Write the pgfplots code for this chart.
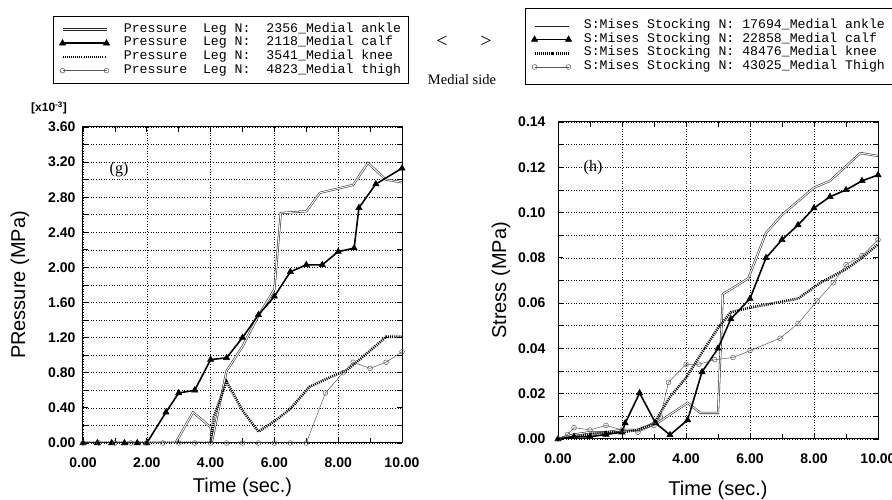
\documentclass[border=0pt]{standalone}
\usepackage{fontspec}
\setmainfont{Liberation Sans}
\setmonofont{Liberation Mono}
\newfontfamily\timesfont{Liberation Serif}
\usepackage{pgfplots}
\pgfplotsset{compat=1.18}

\pgfplotsset{
  panel/.style={
    scale only axis,
    xmin=0, xmax=10,
    xtick={0,2,...,10},
    minor x tick num=1,
    minor y tick num=1,
    xmajorgrids, ymajorgrids, yminorgrids,
    grid style={black, line width=0.6pt, dash pattern=on 1pt off 1.6pt},
    axis line style={line width=1pt},
    tick align=inside,
    major tick length=5pt, minor tick length=5pt,
    tick style={black, line width=0.8pt},
    ticklabel style={font=\fontsize{14}{14}\selectfont\bfseries},
    xticklabel style={yshift=-11pt},
    /pgf/number format/assume math mode=true,
    /pgf/number format/.cd, fixed, fixed zerofill, precision=2, /pgfplots/.cd,
    scaled ticks=false,
    xlabel={Time (sec.)},
    label style={font=\fontsize{20}{21}\selectfont},
    legend cell align=left,
    legend style={draw=black, line width=0.8pt, anchor=north west,
      font=\fontsize{13.2}{12}\selectfont\ttfamily,
      nodes={inner sep=1.2pt, text height=7.5pt, text depth=2.2pt},
      row sep=1.6pt, inner xsep=6pt},
  },
  ankle/.style={draw=black!85, double=white, double distance=1pt, line width=0.55pt, mark=none},
  calf/.style={black, line width=1.6pt, mark=triangle*, mark size=3.6pt, mark options={solid, line width=0.5pt}},
  knee/.style={black, line width=2.6pt, dash pattern=on 1pt off 1.1pt, mark=none},
  thigh/.style={black!65, line width=0.5pt, mark=o, mark size=2.4pt, mark options={solid, fill=white, black!65}},
}

\begin{document}
\begin{tikzpicture}
\useasboundingbox (0,0) rectangle (892pt,500pt);

% ---------------- (g) pressure on the leg ----------------
\begin{axis}[panel,
  at={(83pt,57pt)}, anchor=south west,
  width=319pt, height=316pt,
  ymin=0, ymax=3.6,
  ytick={0,0.4,...,3.6},
  yticklabel style={xshift=-4pt},
  ylabel={PRessure (MPa)},
  ylabel style={yshift=12pt},
  xlabel style={yshift=-4pt},
  legend style={at={(-0.094,1.351)}, column sep=13pt, inner ysep=7pt},
  legend image code/.code={%
    \draw[mark repeat=2, mark phase=1, #1] plot coordinates {(0pt,0pt) (22pt,0pt) (44pt,0pt)};},
]
\addplot[ankle] coordinates {(0,0) (1,0) (2,0) (2.9,0) (3.45,0.35) (4.0,0.18) (4.05,0.03) (4.5,0.82) (5.0,1.1) (5.5,1.45) (6.0,1.75) (6.2,2.62) (7.0,2.64) (7.43,2.85) (8.47,2.94) (8.93,3.19) (9.5,3.0) (10,2.97)};
\addlegendentry{Pressure\ \ Leg\ N:\ \ 2356\_Medial ankle}
\addplot[calf] coordinates {(0,0) (0.45,0) (0.9,0) (1.3,0) (1.7,0) (2.0,0) (2.6,0.35) (3.0,0.57) (3.5,0.6) (4.0,0.95) (4.5,0.97) (5.0,1.2) (5.5,1.46) (6.0,1.67) (6.5,1.95) (7.0,2.03) (7.5,2.03) (8.0,2.18) (8.5,2.22) (8.65,2.68) (9.18,2.95) (10,3.13)};
\addlegendentry{Pressure\ \ Leg\ N:\ \ 2118\_Medial calf}
\addplot[knee] coordinates {(0,0) (4.0,0) (4.1,0.3) (4.5,0.7) (5.0,0.37) (5.5,0.13) (6.05,0.26) (6.5,0.39) (7.1,0.64) (7.75,0.75) (8.27,0.83) (8.9,1.02) (9.5,1.21) (10,1.21)};
\addlegendentry{Pressure\ \ Leg\ N:\ \ 3541\_Medial knee}
\addplot[thigh] coordinates {(0,0) (0.5,0) (1,0) (1.5,0) (2,0) (2.5,0) (3,0) (3.5,0) (4,0) (4.5,0) (5,0) (5.5,0) (6,0) (6.5,0) (7,0) (7.6,0.57) (8.15,0.8) (8.47,0.92) (9.0,0.85) (9.5,0.92) (10,1.04)};
\addlegendentry{Pressure\ \ Leg\ N:\ \ 4823\_Medial thigh}
\end{axis}

% ---------------- (h) stress on the stocking ----------------
\begin{axis}[panel,
  at={(558pt,61pt)}, anchor=south west,
  width=320pt, height=317pt,
  ymin=0, ymax=0.14,
  ytick={0,0.02,...,0.14},
  yticklabel style={xshift=-9pt},
  ylabel={Stress (MPa)},
  ylabel style={yshift=1pt},
  xlabel style={yshift=-11pt},
  legend style={at={(-0.103,1.36)}, column sep=11pt, inner ysep=11.5pt},
  legend image code/.code={%
    \draw[mark repeat=2, mark phase=1, #1] plot coordinates {(0pt,0pt) (17pt,0pt) (34pt,0pt)};},
]
\addplot[ankle] coordinates {(0,0) (0.5,0.002) (1,0.003) (1.5,0.003) (2.0,0.004) (2.5,0.004) (3.1,0.007) (4.05,0.016) (4.45,0.0115) (5.0,0.0115) (5.15,0.064) (5.5,0.067) (5.95,0.071) (6.5,0.091) (7.0,0.099) (7.5,0.105) (8.0,0.111) (8.5,0.114) (9.45,0.1263) (10,0.125)};
\addlegendentry{S:Mises Stocking N: 17694\_Medial ankle}
\addplot[calf] coordinates {(0,0) (0.5,0.001) (1,0.001) (1.5,0.002) (2.0,0.003) (2.1,0.007) (2.55,0.0203) (3.05,0.007) (3.5,0.0018) (4.05,0.0084) (4.5,0.0296) (5.0,0.040) (5.4,0.053) (6.0,0.062) (6.5,0.080) (7.0,0.088) (7.5,0.0945) (8.0,0.102) (8.5,0.107) (9.0,0.110) (9.5,0.114) (10,0.1166)};
\addlegendentry{S:Mises Stocking N: 22858\_Medial calf}
\addplot[knee] coordinates {(0,0) (0.5,0.001) (1.0,0.002) (1.5,0.003) (2.0,0.003) (2.5,0.004) (3.0,0.007) (3.5,0.0186) (4.0,0.027) (4.4,0.036) (5.0,0.049) (5.4,0.056) (6.0,0.058) (7.5,0.062) (8.2,0.069) (9.0,0.075) (9.5,0.080) (10,0.086)};
\addlegendentry{S:Mises Stocking N: 48476\_Medial knee}
\addplot[thigh] coordinates {(0,0) (0.3,0.002) (0.5,0.005) (1.0,0.004) (1.5,0.006) (2.0,0.004) (2.5,0.003) (3.0,0.006) (3.2,0.0097) (3.45,0.025) (4.0,0.033) (4.4,0.033) (4.9,0.035) (5.47,0.036) (6.0,0.039) (6.94,0.0445) (7.5,0.051) (8.1,0.061) (8.6,0.069) (9.0,0.077) (9.5,0.081) (10,0.088)};
\addlegendentry{S:Mises Stocking N: 43025\_Medial Thigh}
\end{axis}

% annotations
\node[font=\bfseries\fontsize{12}{12}\selectfont] at (49pt,392pt) {[x10\textsuperscript{-3}]};
\node[font=\timesfont\fontsize{16}{16}\selectfont] at (119pt,330pt) {(g)};
\node[font=\timesfont\fontsize{16}{16}\selectfont] at (593pt,332pt) {(h)};
\node[font=\timesfont\fontsize{20}{20}\selectfont] at (442pt,458pt) {<};
\node[font=\timesfont\fontsize{20}{20}\selectfont] at (486pt,458pt) {>};
\node[font=\timesfont\fontsize{14.5}{15}\selectfont] at (462pt,420pt) {Medial side};
\end{tikzpicture}
\end{document}
